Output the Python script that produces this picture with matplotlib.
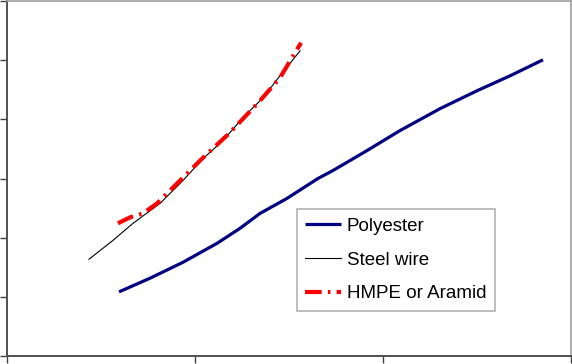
import matplotlib as mp
mp.use("Agg")
import matplotlib.pyplot as plot

# curve data (unitless)
poly_x = [0.596, 0.761, 0.936, 1.117, 1.239, 1.346, 1.489, 1.654, 1.734,
          1.915, 2.090, 2.303, 2.500, 2.676, 2.851]
poly_y = [1.084, 1.315, 1.584, 1.904, 2.157, 2.410, 2.663, 3.000, 3.135,
          3.472, 3.809, 4.180, 4.483, 4.736, 5.006]

steel_x = [0.436, 0.564, 0.670, 0.814, 0.936, 1.043, 1.149, 1.255, 1.362,
           1.452, 1.559]
steel_y = [1.635, 1.955, 2.242, 2.579, 2.966, 3.337, 3.641, 4.028, 4.365,
           4.736, 5.158]

hmpe_x = [0.590, 0.654, 0.723, 0.798, 0.894, 1.027, 1.186, 1.346, 1.452, 1.564]
hmpe_y = [2.242, 2.343, 2.410, 2.579, 2.882, 3.304, 3.776, 4.315, 4.703, 5.293]

labels = ["Polyester", "Steel wire", "HMPE or Aramid"]

X = [0, 3]
Y = [0, 6]

mp.rcParams["font.family"] = ["Liberation Sans", "DejaVu Sans"]

fig = plot.figure(figsize=(5.72, 3.64), dpi=100)
ax = fig.add_axes([7/572, 8/364, 564/572, 355/364])

ax.plot(poly_x, poly_y, color="#000080", lw=2.3, label=labels[0],
        solid_capstyle="butt", solid_joinstyle="round")
ax.plot(steel_x, steel_y, color="black", lw=0.8, label=labels[1])
ax.plot(hmpe_x, hmpe_y, color="#ff0000", lw=3, label=labels[2],
        dashes=(4, 1.5, 0.6, 1.5))

ax.set_xlim(X)
ax.set_ylim(Y)
ax.set_xticks(range(X[0], X[1]+1))
ax.set_yticks(range(Y[0], Y[1]+1))
ax.tick_params(labelbottom=False, labelleft=False, direction="out",
               length=5, width=1, color="#404040")

for s in ["left", "bottom"]:
  ax.spines[s].set_color("#505050")
  ax.spines[s].set_linewidth(1.4)
for s in ["top", "right"]:
  ax.spines[s].set_color("#a0a0a0")
  ax.spines[s].set_linewidth(1.2)

leg = ax.legend(loc="upper left", bbox_to_anchor=(290/564, 1 - 209/356),
                bbox_transform=ax.transAxes, fontsize=13.5, frameon=True,
                fancybox=False, handlelength=1.9, handletextpad=0.3,
                labelspacing=0.88, borderpad=0.45, borderaxespad=0)
leg.get_frame().set_edgecolor("#a0a0a0")
leg.get_frame().set_linewidth(1.2)

plot.savefig("out.png", dpi=100)
